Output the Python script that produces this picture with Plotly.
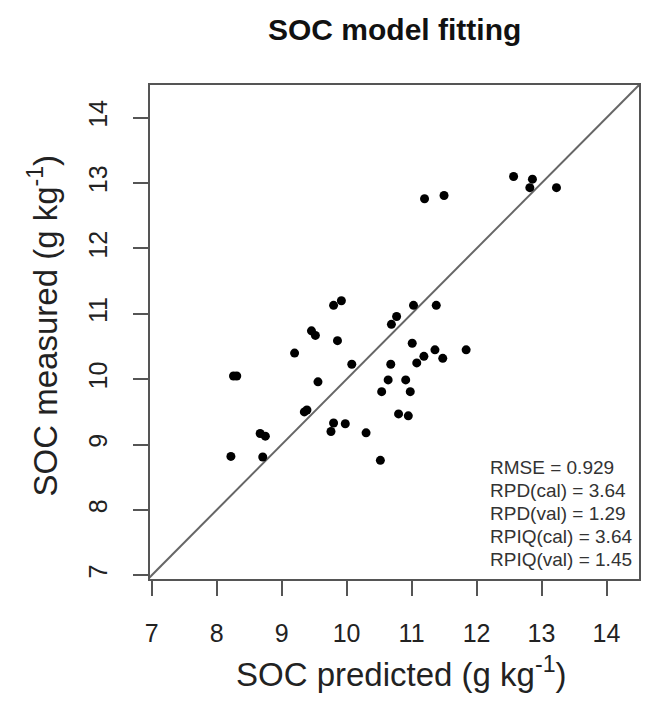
import plotly.graph_objects as go

# ---- data ----
soc_predicted = [9.80, 9.92, 9.46, 9.52, 9.86, 9.20, 10.08, 8.26, 8.31, 9.56,
                 9.35, 9.39, 9.80, 9.98, 9.76, 8.67, 8.75, 8.22, 8.71, 11.03,
                 11.38, 10.77, 10.69, 11.01, 11.36, 11.84, 11.19, 11.08, 11.48, 10.68,
                 10.64, 10.91, 10.54, 10.98, 10.80, 10.95, 10.30, 10.52, 11.20, 11.50,
                 12.57, 12.86, 12.82, 13.23]
soc_measured = [11.13, 11.20, 10.74, 10.67, 10.59, 10.40, 10.23, 10.05, 10.05, 9.96,
                9.50, 9.53, 9.33, 9.32, 9.20, 9.17, 9.13, 8.82, 8.81, 11.13,
                11.13, 10.96, 10.84, 10.55, 10.45, 10.45, 10.35, 10.25, 10.32, 10.23,
                9.99, 9.99, 9.81, 9.81, 9.47, 9.44, 9.18, 8.76, 12.76, 12.81,
                13.10, 13.06, 12.93, 12.93]
one_to_one = [6.5, 15.0]
tick_values = [7, 8, 9, 10, 11, 12, 13, 14]
stat_lines = ["RMSE = 0.929", "RPD(cal) = 3.64", "RPD(val) = 1.29",
              "RPIQ(cal) = 3.64", "RPIQ(val) = 1.45"]
title_text = "SOC model fitting"
x_title = "SOC predicted (g kg<sup>-1</sup>)"
y_title = "SOC measured (g kg<sup>-1</sup>)"

FONT = "Liberation Sans, Arial, sans-serif"
W, H = 651, 702
ML, MR, MT, MB = 150, 10, 85, 123
PW, PH = W - ML - MR, H - MT - MB


def px_x(px):
    return (px - ML) / PW


def px_y(py):
    return (H - MB - py) / PH


fig = go.Figure()
fig.add_trace(go.Scatter(x=one_to_one, y=one_to_one, mode="lines",
                         line=dict(color="#666666", width=2), hoverinfo="skip",
                         showlegend=False))
fig.add_trace(go.Scatter(x=soc_predicted, y=soc_measured, mode="markers",
                         marker=dict(color="black", size=9), showlegend=False))

axis_common = dict(
    showgrid=False, zeroline=False, showline=True, mirror=True,
    linecolor="#555555", linewidth=2,
    ticks="outside", ticklen=15, tickwidth=2, tickcolor="#555555",
    tickvals=tick_values, ticktext=[str(v) for v in tick_values],
    tickfont=dict(family=FONT, size=25, color="#222222"),
    ticklabelstandoff=16,
)
fig.update_xaxes(range=[6.975, 14.5], **axis_common)
fig.update_yaxes(range=[6.945, 14.5], tickangle=-90, **axis_common)

annotations = [
    dict(text="<b>" + title_text + "</b>", x=0.5, y=px_y(29), xref="paper", yref="paper",
         xanchor="center", yanchor="middle", showarrow=False,
         font=dict(family=FONT, size=30, color="#111111")),
    dict(text=x_title, x=px_x(403), y=px_y(672), xref="paper", yref="paper",
         xanchor="center", yanchor="middle", showarrow=False,
         font=dict(family=FONT, size=33, color="#222222")),
    dict(text=y_title, x=px_x(43), y=px_y(325), xref="paper", yref="paper",
         xanchor="center", yanchor="middle", showarrow=False, textangle=-90,
         font=dict(family=FONT, size=33, color="#222222")),
]
for i, s in enumerate(stat_lines):
    annotations.append(dict(text=s, x=px_x(489), y=px_y(467 + 23 * i),
                            xref="paper", yref="paper", xanchor="left",
                            yanchor="middle", showarrow=False,
                            font=dict(family=FONT, size=19, color="#333333")))

fig.update_layout(
    width=W, height=H, autosize=False,
    margin=dict(l=ML, r=MR, t=MT, b=MB, pad=0),
    paper_bgcolor="white", plot_bgcolor="white",
    annotations=annotations,
)

fig.write_html("out.html")
